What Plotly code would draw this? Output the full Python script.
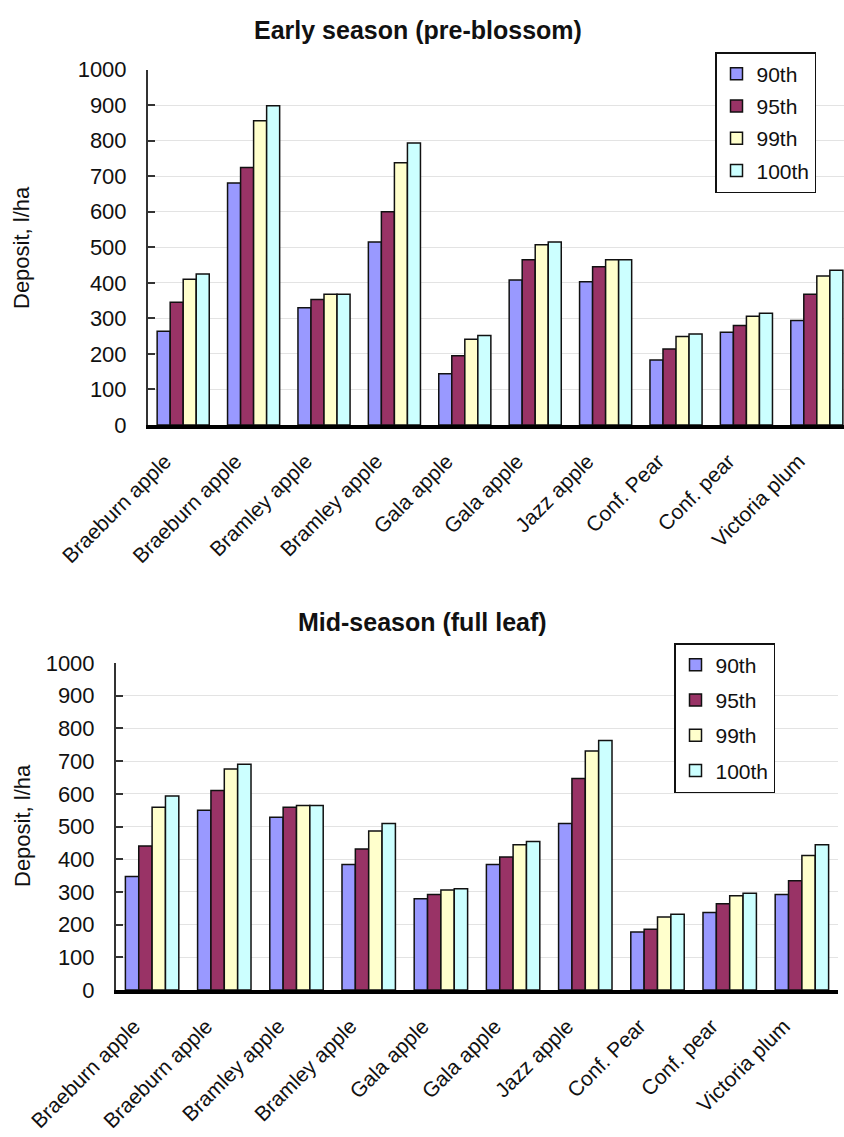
import plotly.graph_objects as go

# Orchard crops (x-axis categories, shared by both panels)
crops = ["Braeburn apple", "Braeburn apple", "Bramley apple", "Bramley apple",
         "Gala apple", "Gala apple", "Jazz apple", "Conf. Pear", "Conf. pear",
         "Victoria plum"]

percentiles = ["90th", "95th", "99th", "100th"]

# Early season (pre-blossom) deposits, l/ha
early_90 = [264, 681, 330, 515, 144, 408, 403, 183, 261, 294]
early_95 = [345, 724, 353, 600, 195, 465, 445, 214, 280, 368]
early_99 = [410, 856, 368, 738, 241, 507, 465, 249, 306, 419]
early_100 = [425, 898, 368, 793, 252, 515, 465, 256, 314, 435]

# Mid-season (full leaf) deposits, l/ha
mid_90 = [347, 550, 528, 384, 279, 384, 509, 177, 237, 292]
mid_95 = [440, 610, 559, 431, 292, 407, 647, 186, 264, 334]
mid_99 = [559, 676, 564, 486, 306, 444, 731, 223, 288, 411]
mid_100 = [593, 690, 564, 509, 310, 454, 763, 232, 296, 444]

y_ticks = [0, 100, 200, 300, 400, 500, 600, 700, 800, 900, 1000]

colors = ["#9999FF", "#993366", "#FFFFCC", "#CCFFFF"]
FONT = "Liberation Sans, Arial, sans-serif"
W, H = 844, 1137

positions = list(range(len(crops)))

fig = go.Figure()

early = [early_90, early_95, early_99, early_100]
mid = [mid_90, mid_95, mid_99, mid_100]

for name, vals, col in zip(percentiles, early, colors):
    fig.add_trace(go.Bar(
        x=positions, y=vals, name=name, xaxis="x", yaxis="y",
        marker=dict(color=col, line=dict(color="#111111", width=1.5)),
        legend="legend", legendgroup="e" + name,
    ))

for name, vals, col in zip(percentiles, mid, colors):
    fig.add_trace(go.Bar(
        x=positions, y=vals, name=name, xaxis="x2", yaxis="y2",
        marker=dict(color=col, line=dict(color="#111111", width=1.5)),
        legend="legend2", legendgroup="m" + name,
    ))


def px_x(v):
    return v / W


def px_y(v):
    return 1 - v / H


yaxis_style = dict(
    range=[0, 1000], tickvals=y_ticks, showgrid=True, gridcolor="#e3e3e3",
    gridwidth=1, showline=True, linecolor="#333333", linewidth=2,
    ticks="inside", ticklen=7, tickcolor="#333333", tickwidth=2,
    tickfont=dict(family=FONT, size=22, color="#111111"),
    ticklabelstandoff=15, zeroline=False, automargin=False,
)
xaxis_style = dict(
    tickvals=positions, ticktext=crops, tickangle=-45, showgrid=False,
    showline=True, linecolor="#000000", linewidth=3.5, ticks="",
    tickfont=dict(family=FONT, size=21, color="#111111"), zeroline=False,
    ticklabelstandoff=12, ticklabelshift=-18, automargin=False,
)

legend_style = dict(
    font=dict(family=FONT, size=21, color="#111111"),
    bgcolor="#ffffff", bordercolor="#111111", borderwidth=1.5,
    xanchor="left", yanchor="top", itemclick=False, maxheight=600,
)

fig.update_layout(
    width=W, height=H,
    margin=dict(l=0, r=0, t=0, b=0, autoexpand=False),
    paper_bgcolor="#ffffff", plot_bgcolor="#ffffff",
    barmode="group", bargap=0.26, bargroupgap=0,
    xaxis=dict(domain=[px_x(148), 1.0], range=[-0.5, 9.386], anchor="y", **xaxis_style),
    yaxis=dict(domain=[px_y(425), px_y(69.5)], anchor="x", **yaxis_style),
    xaxis2=dict(domain=[px_x(116), px_x(838)], range=[-0.5, 9.5], anchor="y2", **xaxis_style),
    yaxis2=dict(domain=[px_y(990), px_y(663)], anchor="x2", **yaxis_style),
    legend=dict(x=px_x(715), y=px_y(52), tracegroupgap=2, **legend_style),
    legend2=dict(x=px_x(674), y=px_y(643), tracegroupgap=5, **legend_style),
    showlegend=True,
)

title_font = dict(family=FONT, size=25, color="#111111")
axis_title_font = dict(family=FONT, size=22, color="#111111")

fig.add_annotation(text="<b>Early season (pre-blossom)</b>", x=px_x(418), y=px_y(30),
                   xref="paper", yref="paper", showarrow=False, font=title_font,
                   xanchor="center", yanchor="middle")
fig.add_annotation(text="<b>Mid-season (full leaf)</b>", x=px_x(422), y=px_y(622),
                   xref="paper", yref="paper", showarrow=False, font=title_font,
                   xanchor="center", yanchor="middle")
fig.add_annotation(text="Deposit, l/ha", x=px_x(22), y=px_y(248), textangle=-90,
                   xref="paper", yref="paper", showarrow=False, font=axis_title_font,
                   xanchor="center", yanchor="middle")
fig.add_annotation(text="Deposit, l/ha", x=px_x(22), y=px_y(826), textangle=-90,
                   xref="paper", yref="paper", showarrow=False, font=axis_title_font,
                   xanchor="center", yanchor="middle")

fig.write_html("out.html")
